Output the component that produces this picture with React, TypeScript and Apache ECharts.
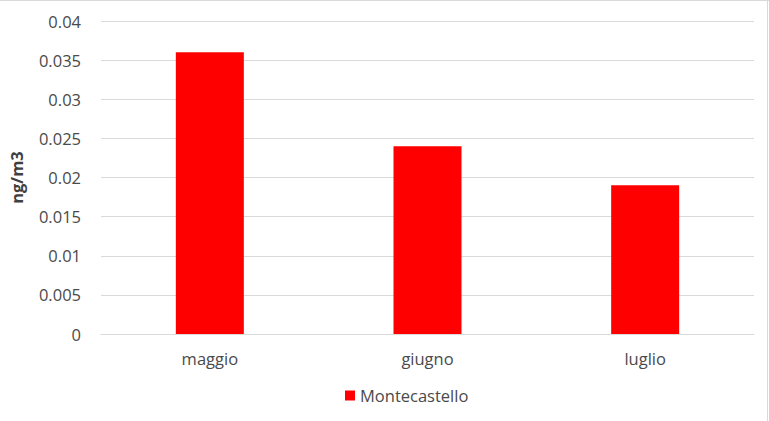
import React, { useEffect, useRef } from "react";
import * as echarts from "echarts";

const categories = ["maggio", "giugno", "luglio"];
const seriesName = "Montecastello";
const values = [0.036, 0.024, 0.019];
const yAxisTitle = "ng/m3";
const yMin = 0;
const yMax = 0.04;
const yInterval = 0.005;

const FONT = "Open Sans";
const TEXT_COLOR = "#4a4a4a";

export default function App() {
  const ref = useRef<HTMLDivElement>(null);
  useEffect(() => {
    if (!ref.current) return;
    const chart = echarts.init(ref.current, undefined, { renderer: "svg" });
    chart.setOption({
      animation: false,
      backgroundColor: "#ffffff",
      textStyle: { fontFamily: FONT },
      grid: { left: 100, right: 15, top: 21, bottom: 87, containLabel: false },
      legend: {
        data: [seriesName],
        left: 340,
        top: 382,
        itemWidth: 10,
        itemHeight: 10,
        itemGap: 6,
        icon: "rect",
        textStyle: { fontFamily: FONT, fontSize: 16.5, color: TEXT_COLOR },
      },
      xAxis: {
        type: "category",
        data: categories,
        axisLine: { show: true, lineStyle: { color: "#d9d9d9", width: 1 } },
        axisTick: { show: false },
        axisLabel: { fontFamily: FONT, fontSize: 16.5, color: TEXT_COLOR, margin: 16 },
      },
      yAxis: {
        type: "value",
        min: yMin,
        max: yMax,
        interval: yInterval,
        name: yAxisTitle,
        nameLocation: "middle",
        nameGap: 76,
        nameRotate: 90,
        nameTextStyle: { fontFamily: FONT, fontSize: 16.5, fontWeight: "bold", color: "#404040" },
        axisLine: { show: false },
        axisTick: { show: false },
        splitLine: { show: true, lineStyle: { color: "#d9d9d9", width: 1 } },
        axisLabel: {
          fontFamily: FONT,
          fontSize: 16.5,
          color: TEXT_COLOR,
          margin: 20,
          formatter: (v: number) => String(parseFloat(v.toFixed(4))),
        },
      },
      series: [
        {
          name: seriesName,
          type: "bar",
          data: values,
          barWidth: 68,
          itemStyle: { color: "#ff0000" },
        },
      ],
      graphic: [
        { type: "line", shape: { x1: 0, y1: 0.5, x2: 769, y2: 0.5 }, style: { stroke: "#d9d9d9", lineWidth: 1 } },
        { type: "line", shape: { x1: 767.5, y1: 0, x2: 767.5, y2: 421 }, style: { stroke: "#d9d9d9", lineWidth: 1 } },
      ],
    });
    return () => chart.dispose();
  }, []);
  return (
    <div
      ref={ref}
      style={{ position: "fixed", left: 0, top: 0, width: 769, height: 421 }}
    />
  );
}
